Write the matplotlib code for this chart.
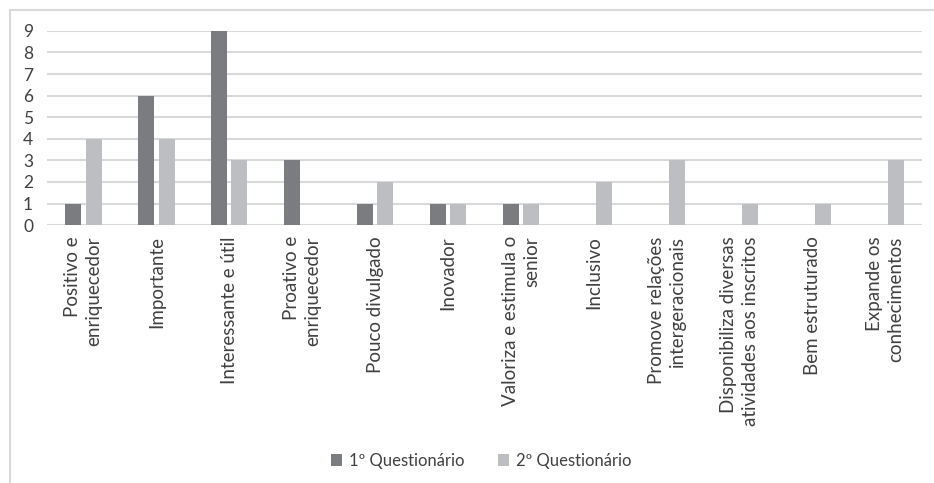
import numpy as np
import matplotlib.pyplot as plt
from matplotlib.patches import Rectangle

# categories and answer counts
categorias = ['Positivo e\nenriquecedor', 'Importante', 'Interessante e útil',
              'Proativo e\nenriquecedor', 'Pouco divulgado', 'Inovador',
              'Valoriza e estimula o\nsenior', 'Inclusivo',
              'Promove relações\nintergeracionais',
              'Disponibiliza diversas\natividades aos inscritos',
              'Bem estruturado', 'Expande os\nconhecimentos']
q1 = [1, 6, 9, 3, 1, 1, 1, 0, 0, 0, 0, 0]
q2 = [4, 4, 3, 0, 2, 1, 1, 2, 3, 1, 1, 3]
series_names = ['1º Questionário', '2º Questionário']
yticks = list(range(0, 10))

plt.rcParams['font.family'] = ['Lato', 'DejaVu Sans']
txt = '#404040'

fig = plt.figure(figsize=(9.34, 4.83), dpi=100)
ax = fig.add_axes([0.0503, 0.534, 0.9367, 0.402])

x = np.arange(len(categorias))
w = 0.22
off = 0.14
ax.bar(x - off, q1, w, color='#7b7c7f', label=series_names[0], zorder=3)
ax.bar(x + off, q2, w, color='#bdbec1', label=series_names[1], zorder=3)

ax.set_xlim(-0.5, len(categorias) - 0.5)
ax.set_ylim(0, 9)
ax.set_yticks(yticks)
ax.yaxis.grid(True, color='#d9d9d9', linewidth=1.5, zorder=0)
ax.set_axisbelow(True)
for s in ax.spines.values():
    s.set_visible(False)
ax.tick_params(axis='both', length=0, colors=txt)
ax.tick_params(axis='y', pad=10, labelsize=12.5)
ax.set_xticks(x)
ax.set_xticklabels(categorias, rotation=90, ha='center', va='top',
                   multialignment='right', fontsize=13.5, linespacing=1.3)
ax.tick_params(axis='x', pad=8)

leg = fig.legend(loc='center', bbox_to_anchor=(0.515, 0.046), ncol=2,
                 frameon=False, fontsize=12, handlelength=0.7, handleheight=0.7,
                 handletextpad=0.4, columnspacing=2.0)
for t in leg.get_texts():
    t.set_color(txt)

# outer chart frame
fig.patches.append(Rectangle((10 / 934, -0.1), 1.2, 1.1 - 10 / 483,
                             transform=fig.transFigure, fill=False,
                             edgecolor='#d9d9d9', linewidth=1.5))

fig.savefig('out.png', dpi=100)
